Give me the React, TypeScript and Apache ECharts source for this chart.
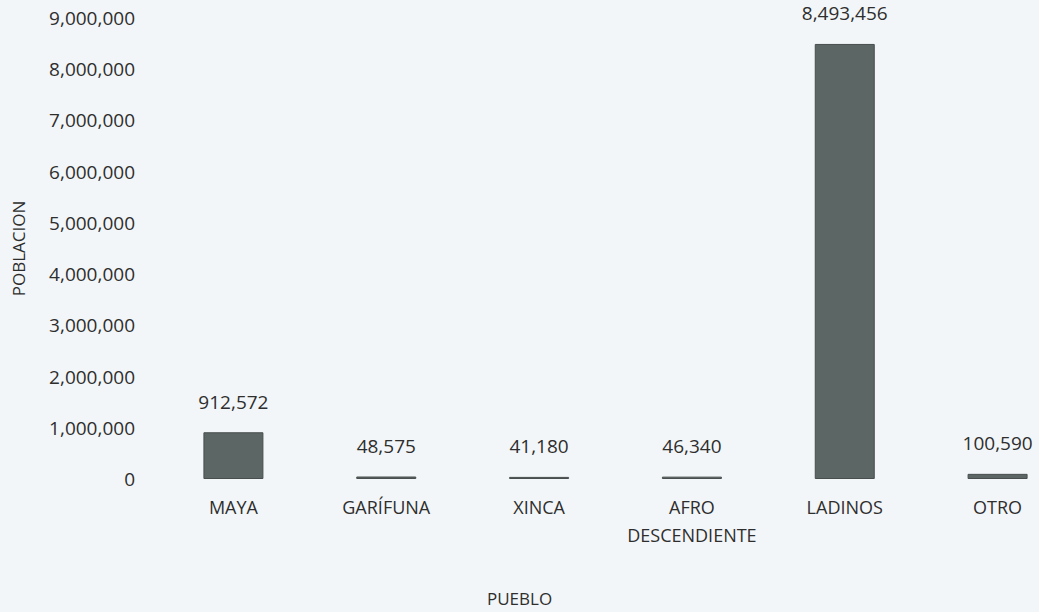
import React, { useEffect, useRef } from "react";
import * as echarts from "echarts";

const categories = ["MAYA", "GARÍFUNA", "XINCA", "AFRO\nDESCENDIENTE", "LADINOS", "OTRO"];
const poblacion = [912572, 48575, 41180, 46340, 8493456, 100590];
const yTicks = [0, 1000000, 2000000, 3000000, 4000000, 5000000, 6000000, 7000000, 8000000, 9000000];
const xTitle = "PUEBLO";
const yTitle = "POBLACION";

const fmt = (v: number) => v.toLocaleString("en-US");
const FONT = "'Open Sans', sans-serif";
const TEXT = "#2e2e2e";

export default function App() {
  const ref = useRef<HTMLDivElement>(null);
  useEffect(() => {
    const chart = echarts.init(ref.current!, null, { renderer: "svg" });
    chart.setOption({
      animation: false,
      backgroundColor: "#f3f6f8",
      grid: { left: 157, top: 18, right: 1, bottom: 133, containLabel: false },
      graphic: [
        {
          type: "text",
          left: 519 - 32,
          top: 590,
          style: { text: xTitle, fill: TEXT, fontSize: 17, fontFamily: FONT },
        },
      ],
      xAxis: {
        type: "category",
        data: categories,
        axisLine: { show: false },
        axisTick: { show: false },
        axisLabel: { color: TEXT, fontSize: 18, fontFamily: FONT, margin: 14, lineHeight: 28, interval: 0 },
      },
      yAxis: {
        type: "value",
        min: yTicks[0],
        max: yTicks[yTicks.length - 1],
        interval: 1000000,
        splitLine: { show: false },
        axisLine: { show: false },
        axisTick: { show: false },
        axisLabel: { color: TEXT, fontSize: 19, fontFamily: FONT, margin: 22, formatter: (v: number) => fmt(v) },
        name: yTitle,
        nameLocation: "middle",
        nameGap: 130,
        nameRotate: 90,
        nameTextStyle: { color: TEXT, fontSize: 17, fontFamily: FONT },
      },
      series: [
        {
          type: "bar",
          data: poblacion,
          barWidth: 60,
          itemStyle: { color: "#5c6665", borderColor: "#474e4d", borderWidth: 1 },
          label: {
            show: true,
            position: "top",
            distance: 21,
            color: TEXT,
            fontSize: 19,
            fontFamily: FONT,
            formatter: (p: any) => fmt(p.value),
          },
        },
      ],
    });
    return () => chart.dispose();
  }, []);
  return (
    <div style={{ width: 1039, height: 612, position: "absolute", left: 0, top: 0, overflow: "hidden" }}>
      <div ref={ref} style={{ width: 1075, height: 612 }} />
    </div>
  );
}
